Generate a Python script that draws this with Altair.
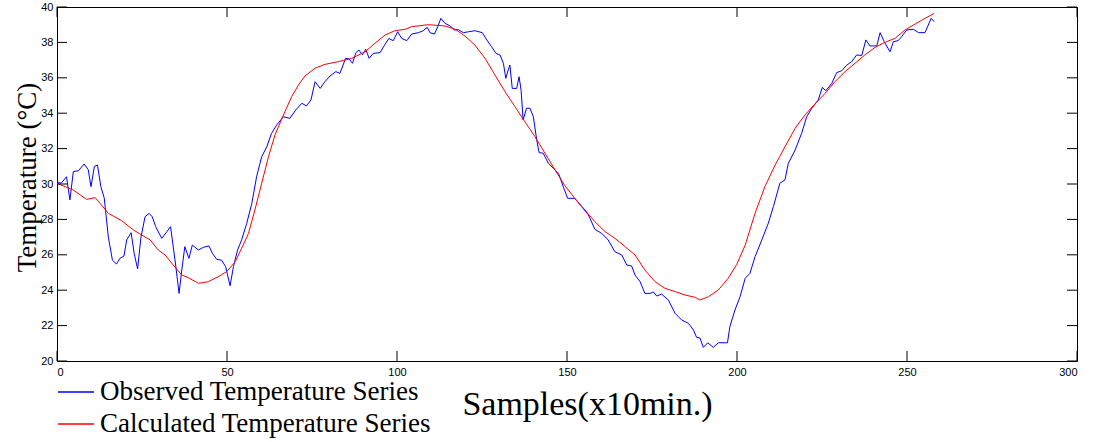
import altair as alt
import pandas as pd

# ---- data ----
blue_x = [0.0, 1.2, 2.8, 3.8, 4.8, 6.3, 8.0, 9.2, 10.0, 11.0, 11.9, 12.9, 13.9, 15.1, 16.3, 17.5,
          18.5, 19.7, 20.5, 21.8, 22.7, 23.7, 24.7, 25.9, 27.1, 28.0, 29.0, 30.8, 32.3, 33.4, 34.9,
          35.9, 36.7, 37.6, 38.8, 39.8, 41.6, 43.0, 44.7, 45.7, 47.0, 48.4, 49.6, 50.9, 51.9, 53.1,
          54.3, 55.8, 57.3, 58.7, 60.2, 61.7, 63.1, 64.6, 66.6, 68.5, 70.2, 72.0, 73.4, 74.7, 75.9,
          77.4, 78.8, 80.3, 82.0, 83.2, 84.9, 85.9, 86.9, 87.9, 88.8, 89.8, 90.8, 91.8, 93.0, 95.0,
          96.5, 97.6, 98.9, 100.2, 101.4, 102.9, 104.3, 106.3, 107.7, 108.9, 109.7, 111.0, 112.0,
          112.9, 114.1, 115.6, 116.9, 118.0, 119.5, 121.0, 122.9, 125.1, 126.4, 127.8, 129.1, 130.3,
          131.3, 132.0, 132.7, 133.2, 133.9, 135.2, 135.9, 136.5, 137.1, 138.1, 139.1, 140.1, 141.1,
          141.8, 143.0, 144.5, 146.0, 147.5, 148.9, 150.2, 152.3, 154.3, 156.3, 158.2, 160.2, 162.1,
          164.1, 166.1, 167.6, 169.0, 170.0, 171.5, 172.9, 174.4, 175.4, 176.4, 177.8, 179.8, 181.8,
          183.7, 185.7, 187.2, 188.1, 189.1, 190.1, 191.4, 193.0, 194.5, 197.2, 197.9, 199.4, 200.9,
          202.4, 203.8, 205.3, 207.3, 209.2, 210.7, 212.6, 214.1, 215.1, 217.1, 219.0, 220.5, 222.0,
          223.9, 225.1, 226.1, 227.9, 229.3, 230.8, 232.3, 233.7, 235.2, 236.7, 237.9, 239.1, 241.1,
          242.1, 243.3, 245.0, 246.0, 247.4, 248.4, 249.9, 251.9, 253.4, 255.3, 257.1, 258.0]
blue_y = [30.13, 30.04, 30.41, 29.1, 30.7, 30.75, 31.13, 30.8, 29.85, 31.0, 31.07, 29.85, 29.2, 27.0,
          25.7, 25.48, 25.8, 25.93, 26.84, 27.25, 26.08, 25.2, 27.0, 28.15, 28.34, 28.15, 27.6, 26.93,
          27.3, 27.59, 25.42, 23.82, 25.14, 26.46, 25.8, 26.55, 26.27, 26.42, 26.5, 26.08, 25.74, 25.7,
          25.33, 24.25, 25.33, 26.27, 26.84, 27.78, 28.9, 30.41, 31.54, 32.1, 32.86, 33.33, 33.8, 33.71,
          34.18, 34.56, 34.41, 34.75, 35.78, 35.4, 35.78, 36.1, 36.35, 36.25, 37.1, 37.07, 36.82, 37.42,
          37.57, 37.3, 37.61, 37.1, 37.38, 37.42, 37.9, 38.22, 38.1, 38.6, 38.22, 38.1, 38.47, 38.55,
          38.66, 38.85, 38.55, 38.47, 38.89, 39.36, 39.08, 38.93, 38.7, 38.72, 38.55, 38.6, 38.66,
          38.55, 38.14, 37.76, 37.38, 37.29, 36.82, 35.97, 36.44, 36.72, 35.4, 35.4, 36.06, 35.3,
          33.62, 34.28, 34.28, 33.8, 32.49, 31.77, 31.74, 31.17, 30.89, 30.6, 29.85, 29.19, 29.19,
          28.72, 28.25, 27.44, 27.21, 26.84, 26.17, 25.99, 25.42, 25.37, 24.86, 24.48, 23.82, 23.82,
          23.9, 23.67, 23.78, 23.45, 22.69, 22.32, 22.13, 21.75, 21.34, 21.3, 20.77, 21.03, 20.77,
          21.03, 21.03, 21.94, 22.88, 23.63, 24.67, 24.95, 25.89, 26.84, 27.78, 28.72, 30.04, 30.23,
          31.17, 31.92, 32.86, 33.8, 34.28, 34.75, 35.46, 35.27, 35.69, 36.29, 36.4, 36.72, 36.91,
          37.29, 37.26, 38.14, 37.8, 37.8, 38.55, 38.04, 37.47, 38.04, 38.1, 38.32, 38.7, 38.74,
          38.55, 38.55, 39.36, 39.17]

red_x = [0.0, 4.8, 8.7, 11.2, 13.1, 15.1, 19.0, 22.5, 24.9, 27.4, 29.8, 31.8, 34.2, 36.7, 38.6,
         41.6, 44.5, 47.4, 49.9, 52.4, 54.3, 56.3, 58.2, 60.2, 62.2, 64.1, 66.6, 69.0, 71.0, 72.9,
         75.9, 78.8, 82.7, 86.7, 90.6, 93.5, 96.5, 99.4, 102.4, 104.3, 109.2, 114.1, 117.1, 120.0,
         122.9, 125.9, 128.8, 131.8, 134.7, 137.6, 140.6, 143.5, 146.5, 149.4, 152.4, 155.3, 158.2,
         161.2, 164.1, 167.1, 170.0, 172.9, 175.9, 178.8, 181.8, 184.7, 187.6, 189.1, 191.6, 194.5,
         197.4, 199.9, 202.4, 205.3, 208.2, 211.2, 214.1, 217.1, 220.0, 222.9, 225.9, 228.8, 231.8,
         234.7, 237.6, 240.6, 243.5, 246.5, 249.4, 252.4, 255.3, 258.0]
red_y = [30.04, 29.66, 29.13, 29.23, 28.81, 28.34, 27.93, 27.4, 27.12, 26.84, 26.27, 25.99, 25.42,
         24.86, 24.71, 24.39, 24.48, 24.76, 25.05, 25.6, 26.37, 27.2, 28.53, 30.04, 31.54, 32.77,
         33.9, 34.93, 35.59, 36.1, 36.54, 36.76, 36.91, 37.1, 37.47, 37.95, 38.42, 38.66, 38.74,
         38.89, 39.0, 38.93, 38.74, 38.36, 37.85, 37.1, 36.16, 35.21, 34.37, 33.52, 32.67, 31.74,
         30.79, 29.9, 29.16, 28.53, 27.87, 27.31, 26.93, 26.46, 25.99, 25.14, 24.48, 24.11, 23.92,
         23.73, 23.6, 23.45, 23.63, 24.01, 24.67, 25.45, 26.55, 28.34, 29.85, 31.07, 32.1, 33.15,
         33.9, 34.52, 35.12, 35.78, 36.35, 36.82, 37.29, 37.72, 38.0, 38.23, 38.7, 39.04, 39.36, 39.64]

x_ticks = [0, 50, 100, 150, 200, 250, 300]
y_ticks = [20, 22, 24, 26, 28, 30, 32, 34, 36, 38, 40]

series_names = ["Observed Temperature Series", "Calculated Temperature Series"]
series_colors = ["#0000ff", "#ff0000"]

# ---- build tables ----
df = pd.concat([
    pd.DataFrame({"s": blue_x, "t": blue_y, "series": series_names[0]}),
    pd.DataFrame({"s": red_x, "t": red_y, "series": series_names[1]}),
], ignore_index=True)
xt = pd.DataFrame({"s": x_ticks})
yt = pd.DataFrame({"t": y_ticks})

W, H = 1020, 354
TL = 10
xs = alt.Scale(domain=[0, 300], nice=False, zero=False)
ys = alt.Scale(domain=[20, 40], nice=False, zero=False)

x_axis = alt.Axis(values=x_ticks, title="Samples(x10min.)", titleFont="Liberation Serif",
                  titleFontSize=34, titleFontWeight="normal", titleColor="black",
                  titleX=530, titleY=53, titleAlign="center", titleBaseline="alphabetic",
                  labelFont="Liberation Sans", labelFontSize=11, labelColor="black",
                  labelOverlap=False, ticks=False, domain=False, grid=False, labelPadding=5)
y_axis = alt.Axis(values=y_ticks, title="Temperature (°C)", titleFont="Liberation Serif",
                  titleFontSize=27, titleFontWeight="normal", titleColor="black",
                  titleX=-22, titleY=170, titleAngle=270, titleAlign="center",
                  titleBaseline="alphabetic",
                  labelFont="Liberation Sans", labelFontSize=11, labelColor="black",
                  labelOverlap=False, ticks=False, domain=False, grid=False, labelPadding=4)

X = alt.X("s:Q", scale=xs, axis=x_axis)
Y = alt.Y("t:Q", scale=ys, axis=y_axis)

lines = alt.Chart(df).mark_line(strokeWidth=1, clip=True).encode(
    x=X,
    y=Y,
    color=alt.Color("series:N",
                    scale=alt.Scale(domain=series_names, range=series_colors),
                    sort=series_names,
                    legend=alt.Legend(orient="none", legendX=0, legendY=366, title=None,
                                      symbolType="stroke", symbolSize=1296,
                                      symbolStrokeWidth=1.5, labelFont="Liberation Serif",
                                      labelFontSize=27, labelColor="black", labelOffset=5,
                                      rowPadding=0, padding=0, labelLimit=0)),
)

tick_bottom = alt.Chart(xt).mark_rule(color="black", strokeWidth=1).encode(
    x=X, y=alt.value(H), y2=alt.value(H - TL))
tick_top = alt.Chart(xt).mark_rule(color="black", strokeWidth=1).encode(
    x=X, y=alt.value(0), y2=alt.value(TL))
tick_left = alt.Chart(yt).mark_rule(color="black", strokeWidth=1).encode(
    y=Y, x=alt.value(0), x2=alt.value(TL))
tick_right = alt.Chart(yt).mark_rule(color="black", strokeWidth=1).encode(
    y=Y, x=alt.value(W), x2=alt.value(W - TL))

chart = alt.layer(lines, tick_bottom, tick_top, tick_left, tick_right).properties(
    width=W, height=H,
    autosize=alt.AutoSizeParams(type="none"),
    padding={"left": 57, "top": 7, "right": 26, "bottom": 81},
    background="white",
).configure_view(stroke="black", strokeWidth=1).configure_axis(labelOverlap=False)

chart.save("out.html", embed_options={"renderer": "svg", "actions": False})
